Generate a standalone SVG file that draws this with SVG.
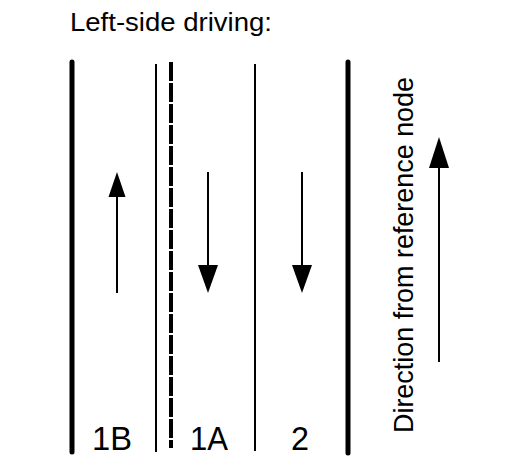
<svg xmlns="http://www.w3.org/2000/svg" width="511" height="467" viewBox="0 0 511 467">
<style>
.lbl{font-family:"Liberation Sans",Arial,sans-serif;fill:#000}
.thick{stroke:#000;stroke-width:5;stroke-linecap:round;fill:none}
.thin{stroke:#000;stroke-width:2;fill:none}
.dash{stroke:#000;stroke-width:4;stroke-dasharray:19 2;fill:none}
.arr{stroke:#000;stroke-width:2;fill:none}
.head{fill:#000}
</style>
<rect width="511" height="467" fill="#fff"/>
<text id="title" class="lbl" x="70" y="31" font-size="25" textLength="202" lengthAdjust="spacingAndGlyphs">Left-side driving:</text>
<g id="lanes">
<line class="thick" x1="72" y1="62" x2="72" y2="452"/>
<line class="thin" x1="156" y1="64" x2="156" y2="452"/>
<line class="dash" x1="171" y1="62" x2="171" y2="448"/>
<line class="thin" x1="255" y1="64" x2="255" y2="451"/>
<line class="thick" x1="348" y1="62" x2="348" y2="453"/>
</g>
<g id="connectors">
<line class="arr" x1="117" y1="293" x2="117" y2="195"/>
<polygon class="head" points="117,172 108.5,197 125.5,197"/>
<line class="arr" x1="208" y1="172" x2="208" y2="268"/>
<polygon class="head" points="208,293 198,265 218,265"/>
<line class="arr" x1="302" y1="172" x2="302" y2="268"/>
<polygon class="head" points="302,293 292,265 312,265"/>
<line class="arr" x1="439" y1="362" x2="439" y2="165"/>
<polygon class="head" points="439,137 429,168 449,168"/>
</g>
<g id="label-1B"><text class="lbl" x="92" y="450" font-size="33" textLength="40" lengthAdjust="spacingAndGlyphs">1B</text></g>
<g id="label-1A"><text class="lbl" x="190" y="450" font-size="33" textLength="38" lengthAdjust="spacingAndGlyphs">1A</text></g>
<g id="label-2"><text class="lbl" x="291" y="450" font-size="33" textLength="18" lengthAdjust="spacingAndGlyphs">2</text></g>
<g id="label-direction"><text class="lbl" transform="translate(413,433) rotate(-90)" x="0" y="0" font-size="28" textLength="356" lengthAdjust="spacingAndGlyphs">Direction from reference node</text></g>
</svg>
